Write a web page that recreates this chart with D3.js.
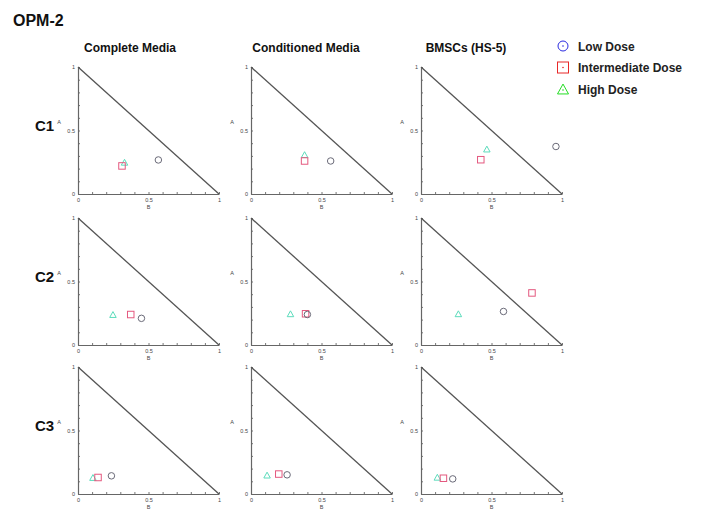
<!DOCTYPE html>
<html>
<head>
<meta charset="utf-8">
<script src="https://cdn.jsdelivr.net/npm/d3@7"></script>
<style>
  body { margin: 0; background: #fff; }
  svg { font-family: "Liberation Sans", Arial, sans-serif; }
</style>
</head>
<body>
<div id="chart"></div>
<script>
const figTitle = "OPM-2";
const columns = ["Complete Media", "Conditioned Media", "BMSCs (HS-5)"];
const rows = ["C1", "C2", "C3"];
const doses = ["Low Dose", "Intermediate Dose", "High Dose"];
const tickLabels = [0, 0.5, 1];

// values, [row][column]
const lowB = [[0.57, 0.565, 0.957], [0.45, 0.40, 0.585], [0.237, 0.256, 0.225]];
const lowA = [[0.268, 0.26, 0.374], [0.21, 0.24, 0.264], [0.143, 0.151, 0.119]];
const midB = [[0.312, 0.38, 0.424], [0.374, 0.387, 0.787], [0.142, 0.197, 0.159]];
const midA = [[0.221, 0.26, 0.27], [0.24, 0.246, 0.41], [0.13, 0.157, 0.124]];
const highB = [[0.33, 0.38, 0.467], [0.248, 0.28, 0.265], [0.106, 0.114, 0.116]];
const highA = [[0.25, 0.31, 0.354], [0.24, 0.246, 0.246], [0.13, 0.149, 0.132]];

const W = 703, H = 516;
const panelW = 141, panelH = 127;
const panelLeft = [78, 251, 421];
const panelTop = [67, 218, 367];
const titleOffset = [52, 55, 45];

const markColor = ["#6a6a78", "#e4587f", "#5cdcbc"];
const legendColor = ["#2a2ae0", "#e82828", "#22dd22"];

const svg = d3.select("#chart").append("svg")
    .attr("width", W)
    .attr("height", H);

svg.append("text")
    .attr("x", 13).attr("y", 26)
    .attr("font-size", 16).attr("font-weight", "bold")
    .attr("fill", "#111")
    .text(figTitle);

columns.forEach((c, j) => {
    svg.append("text")
        .attr("x", panelLeft[j] + titleOffset[j])
        .attr("y", 52)
        .attr("text-anchor", "middle")
        .attr("font-size", 12).attr("font-weight", "bold")
        .attr("fill", "#111")
        .text(c);
});

rows.forEach((r, i) => {
    svg.append("text")
        .attr("x", 35)
        .attr("y", panelTop[i] + 64)
        .attr("font-size", 15).attr("font-weight", "bold")
        .attr("fill", "#111")
        .text(r);
});

function marker(g, kind, x, y, color, size) {
    if (kind === 0) {
        g.append("circle").attr("cx", x).attr("cy", y).attr("r", size / 2)
            .attr("fill", "none").attr("stroke", color).attr("stroke-width", 1);
    } else if (kind === 1) {
        g.append("rect").attr("x", x - size / 2).attr("y", y - size / 2)
            .attr("width", size).attr("height", size)
            .attr("fill", "none").attr("stroke", color).attr("stroke-width", 1);
    } else {
        const h = size * 0.9;
        g.append("path")
            .attr("d", `M${x},${y - h / 2}L${x + size / 2},${y + h / 2}L${x - size / 2},${y + h / 2}Z`)
            .attr("fill", "none").attr("stroke", color).attr("stroke-width", 1);
    }
}

const x = d3.scaleLinear().domain([0, 1]).range([0, panelW]);
const y = d3.scaleLinear().domain([0, 1]).range([panelH, 0]);
const line = d3.line().x(d => x(d[0])).y(d => y(d[1]));

rows.forEach((r, i) => {
    columns.forEach((c, j) => {
        const g = svg.append("g")
            .attr("transform", `translate(${panelLeft[j]},${panelTop[i]})`);

        // minor inward ticks
        g.append("g")
            .attr("transform", `translate(0,${panelH})`)
            .call(d3.axisBottom(x).ticks(10).tickSize(-2).tickFormat(""))
            .call(a => a.select(".domain").remove())
            .call(a => a.selectAll("line").attr("stroke", "#777"));
        g.append("g")
            .call(d3.axisLeft(y).ticks(10).tickSize(-2).tickFormat(""))
            .call(a => a.select(".domain").remove())
            .call(a => a.selectAll("line").attr("stroke", "#777"));

        // labelled ticks
        const xa = g.append("g")
            .attr("transform", `translate(0,${panelH})`)
            .call(d3.axisBottom(x).tickValues(tickLabels).tickSize(0).tickPadding(4).tickFormat(d3.format("")));
        const ya = g.append("g")
            .call(d3.axisLeft(y).tickValues(tickLabels).tickSize(0).tickPadding(3).tickFormat(d3.format("")));
        [xa, ya].forEach(a => {
            a.select(".domain").attr("stroke", "#666").attr("stroke-width", 1.2);
            a.selectAll("text").attr("font-size", 5.5).attr("fill", "#444").attr("font-family", "Liberation Sans, Arial, sans-serif");
        });

        g.append("text")
            .attr("x", panelW / 2).attr("y", panelH + 15)
            .attr("text-anchor", "middle")
            .attr("font-size", 5.5).attr("fill", "#444")
            .text("B");
        g.append("text")
            .attr("x", -19).attr("y", y(0.55))
            .attr("text-anchor", "middle")
            .attr("font-size", 5.5).attr("fill", "#444")
            .text("A");

        g.append("path")
            .datum([[0, 1], [1, 0]])
            .attr("d", line)
            .attr("fill", "none")
            .attr("stroke", "#555")
            .attr("stroke-width", 1.3);

        const pts = [
            [lowB[i][j], lowA[i][j]],
            [midB[i][j], midA[i][j]],
            [highB[i][j], highA[i][j]]
        ];
        [2, 1, 0].forEach(k => {
            marker(g, k, x(pts[k][0]), y(pts[k][1]), markColor[k], 6.5);
        });
    });
});

// legend
doses.forEach((d, k) => {
    const ly = 46 + k * 21.5;
    marker(svg, k, 563, ly, legendColor[k], k === 0 ? 10 : 11);
    svg.append("circle").attr("cx", 563).attr("cy", ly + (k === 2 ? 1 : 0)).attr("r", 0.8)
        .attr("fill", legendColor[k]);
    svg.append("text")
        .attr("x", 578).attr("y", ly + 4.5)
        .attr("font-size", 12).attr("font-weight", "bold")
        .attr("fill", "#222")
        .text(d);
});
</script>
</body>
</html>
